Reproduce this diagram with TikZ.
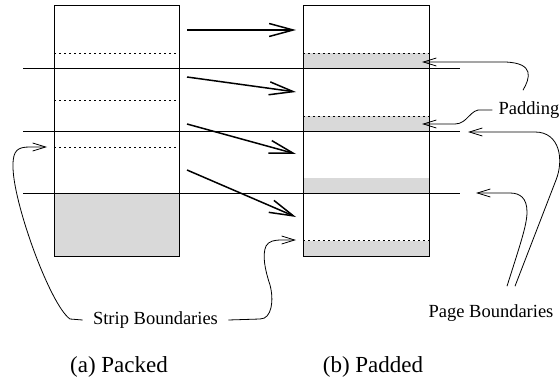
\documentclass[tikz,border=0pt]{standalone}
\usepackage{fontspec}
\setmainfont{Liberation Serif}
\usetikzlibrary{arrows.meta}
\definecolor{padgray}{RGB}{217,217,217}
\tikzset{
  stripbox/.style={rectangle, draw, line width=0.5pt, minimum width=62.5pt,
    minimum height=125pt, inner sep=0pt, outer sep=0pt},
  stripline/.style={dash pattern=on 1pt off 1.5pt, line width=0.4pt},
  pageline/.style={line width=0.5pt},
  maparrow/.style={-{Straight Barb[length=12pt, width=6.5pt]}, line width=0.75pt},
  callout/.style={-{Straight Barb[length=6.5pt, width=4pt]}, line width=0.4pt},
  lbl/.style={font=\fontsize{9.25}{11}\selectfont, inner sep=3pt},
  caption/.style={font=\fontsize{11.5}{14}\selectfont},
}

\begin{document}
\begin{tikzpicture}[x=0.5pt, y=-0.5pt]
  \useasboundingbox (0,0) rectangle (560,379);

  % Padding and free space
  \fill[padgray] (54,193) rectangle (179,256);
  \foreach \t/\b in {53/69, 116/132, 178/193, 241/256}
    \fill[padgray] (303,\t) rectangle (429,\b);

  % Strip boundaries inside the boxes
  \foreach \y in {53, 100, 147}
    \draw[stripline] (54,\y) -- (179,\y);
  \foreach \y in {53, 116, 240}
    \draw[stripline] (303,\y) -- (429,\y);

  % Page boundaries
  \foreach \y in {69, 132, 193}
    \draw[pageline] (23,\y) -- (460,\y);

  \node[stripbox] (packed) at (116.5,131) {};
  \node[stripbox, minimum width=63pt] (padded) at (366,131) {};

  % Strips moved over
  \foreach \i/\s/\e in {1/30/30, 2/77/92, 3/124/154, 4/170/217} {
    \coordinate (s\i) at (187,\s);
    \coordinate (e\i) at (296,\e);
    \draw[maparrow] (s\i) -- (e\i);
  }

  % Labels
  \node[lbl] (strip) at (155.5,320) {Strip Boundaries};
  \node[lbl] (pad) at (529,110) {Padding};
  \node[lbl] (page) at (491,313) {Page Boundaries};
  \node[caption] (capa) at (119,367) {(a) Packed};
  \node[caption] (capb) at (373,367) {(b) Padded};

  \coordinate (sbL) at (47,147);
  \coordinate (sbR) at (296,240);
  \coordinate (padA) at (422,62);
  \coordinate (padB) at (422,124);
  \coordinate (pgA) at (468,132);
  \coordinate (pgB) at (476,193);

  % Callouts
  \draw[callout] ([xshift=-2pt]strip.west) -- (70,319)
    .. controls (50,305) and (12,200) .. (13,165)
    .. controls (13,150) and (18,147) .. (30,147) -- (sbL);
  \draw[callout] ([xshift=2pt]strip.east) -- (260,319)
    .. controls (272,319) and (274,300) .. (270,285)
    .. controls (265,270) and (262,255) .. (266,246)
    .. controls (269,241) and (274,240) .. (282,240) -- (sbR);
  \draw[callout] ([xshift=-3pt,yshift=2.5pt]pad.north)
    .. controls (530,78) and (535,63) .. (505,62) -- (padA);
  \draw[callout] (pad.west) -- ++(-10,0)
    .. controls (470,108) and (468,124) .. (455,124) -- (padB);
  \draw[callout] ([xshift=12pt,yshift=6pt]page.north) -- (556,180)
    .. controls (564,160) and (560,132) .. (535,132) -- (pgA);
  \draw[callout] ([xshift=8pt,yshift=6pt]page.north)
    .. controls (520,245) and (527,225) .. (527,212)
    .. controls (527,198) and (520,193) .. (510,193) -- (pgB);
\end{tikzpicture}
\end{document}
